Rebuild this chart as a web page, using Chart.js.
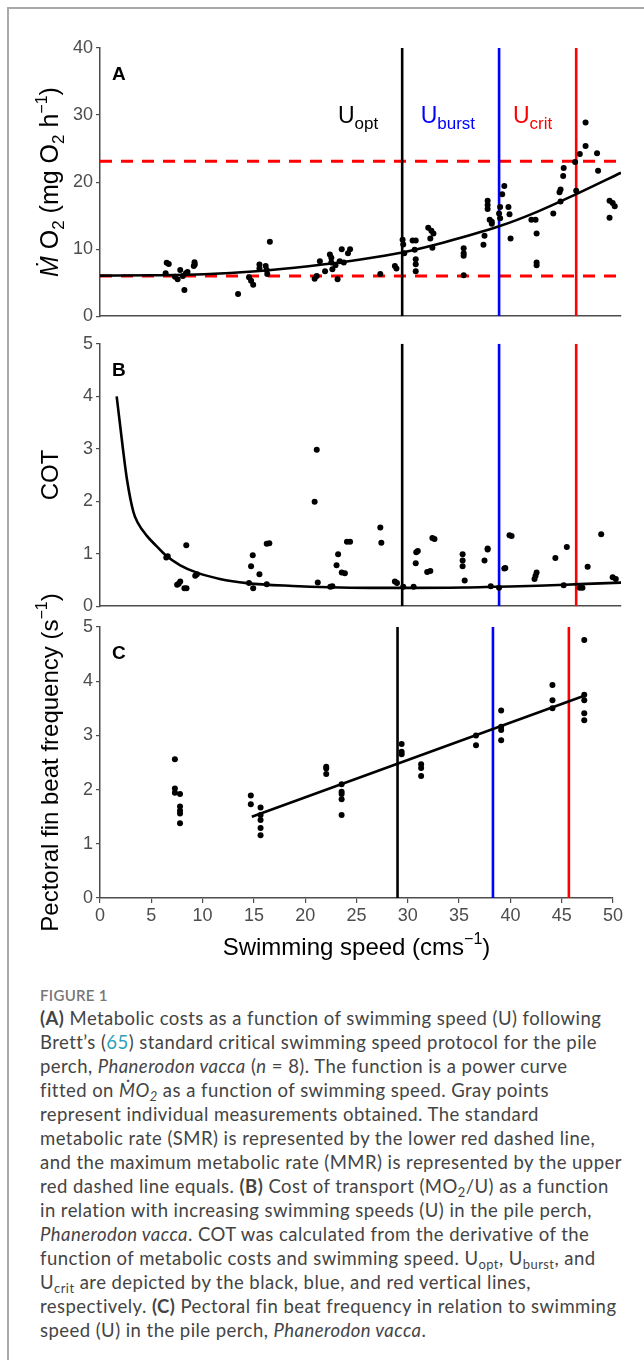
<!DOCTYPE html>
<html>
<head>
<meta charset="utf-8">
<script src="https://cdn.jsdelivr.net/npm/chart.js@4.4.1/dist/chart.umd.min.js"></script>
<style>
  body { margin: 0; background: #fff; width: 644px; height: 1360px; position: relative; overflow: hidden; }
  .frame { position: absolute; left: 7px; top: 7px; width: 700px; height: 1400px; border-left: 2px solid #aaa; border-top: 2px solid #aaa; }
  .panel { position: absolute; left: 0; width: 625px; }
  #boxA { top: 0; height: 330px; }
  #boxB { top: 330px; height: 290px; }
  #boxC { top: 575px; height: 390px; }
  .figlabel { position: absolute; left: 40px; top: 985px; font: 600 15px Lato, "Open Sans", sans-serif; color: #777; letter-spacing: 0.3px; line-height: 20px; }
  .caption { position: absolute; left: 40px; top: 1006px; font: 18.5px Lato, "Open Sans", sans-serif; letter-spacing: 0.45px; color: #444; line-height: 24px; white-space: nowrap; }
  .caption b { font-weight: 700; }
  .caption sub { font-size: 0.7em; line-height: 0; vertical-align: baseline; position: relative; top: 0.3em; }
  .caption .ref { color: #2a9fbc; }
</style>
</head>
<body>
<div class="frame"></div>
<div class="panel" id="boxA"><canvas id="chartA"></canvas></div>
<div class="panel" id="boxB"><canvas id="chartB"></canvas></div>
<div class="panel" id="boxC"><canvas id="chartC"></canvas></div>
<div class="figlabel">FIGURE 1</div>
<div class="caption">
<b>(A)</b> Metabolic costs as a function of swimming speed (U) following<br>
Brett’s (<span class="ref">65</span>) standard critical swimming speed protocol for the pile<br>
perch, <i>Phanerodon vacca</i> (<i>n</i> = 8). The function is a power curve<br>
fitted on <i>ṀO<sub>2</sub></i> as a function of swimming speed. Gray points<br>
represent individual measurements obtained. The standard<br>
metabolic rate (SMR) is represented by the lower red dashed line,<br>
and the maximum metabolic rate (MMR) is represented by the upper<br>
red dashed line equals. <b>(B)</b> Cost of transport (MO<sub>2</sub>/U) as a function<br>
in relation with increasing swimming speeds (U) in the pile perch,<br>
<i>Phanerodon vacca</i>. COT was calculated from the derivative of the<br>
function of metabolic costs and swimming speed. U<sub>opt</sub>, U<sub>burst</sub>, and<br>
U<sub>crit</sub> are depicted by the black, blue, and red vertical lines,<br>
respectively. <b>(C)</b> Pectoral fin beat frequency in relation to swimming<br>
speed (U) in the pile perch, <i>Phanerodon vacca</i>.
</div>
<script>
// reference speeds (cm/s): Uopt, Uburst, Ucrit
var uMarks = [29.0, 38.3, 45.7];
var uNames = ['opt', 'burst', 'crit'];
// SMR and MMR (mg O2 / h)
var smrLevel = 6.0;
var mmrLevel = 23.1;

// panel A - MO2 measurements
var mo2Speed = [6.3, 6.4, 6.6, 7.2, 7.45, 7.7, 7.95, 8.1, 8.25, 8.4, 9.0, 9.07, 9.1,
  13.25, 14.3, 14.5, 14.7, 15.3, 15.3, 15.9, 16.0, 16.05, 16.3,
  20.6, 20.8, 21.1, 21.6, 22.06, 22.2, 22.2, 22.3, 22.8, 23.0, 23.2, 23.4, 23.8, 24.0, 22.6,
  26.9, 28.3, 28.45, 29.04, 29.1, 29.2, 30.0, 30.3, 30.2, 30.3, 30.3, 30.3,
  31.5, 31.8, 32.0, 31.7, 31.9,
  34.9, 34.9, 34.9, 34.9,
  36.8, 36.9, 37.2, 37.2, 37.2, 37.4, 37.6, 37.6,
  38.3, 38.4, 38.4, 38.6, 38.8, 39.2, 39.3, 39.4,
  41.4, 41.8, 41.9, 41.9, 41.9, 43.5, 44.1, 44.2, 44.2, 44.45, 44.5,
  45.7, 45.6, 46.05, 46.6, 46.6, 47.7, 47.8, 48.9, 49.2, 49.4, 48.9];
var mo2Rate = [6.4, 7.96, 7.8, 5.9, 5.5, 6.9, 6.0, 3.9, 6.4, 6.6, 7.5, 8.06, 7.7,
  3.3, 5.8, 5.3, 4.7, 7.7, 7.1, 7.5, 6.9, 6.3, 11.1,
  5.6, 6.0, 8.2, 6.7, 9.2, 8.7, 8.0, 7.0, 5.5, 8.2, 10.0, 8.0, 9.4, 10.0, 7.6,
  6.3, 7.5, 7.1, 11.4, 10.7, 9.4, 11.3, 11.3, 9.9, 8.5, 7.75, 6.7,
  13.2, 12.75, 12.35, 11.6, 10.2,
  10.15, 9.4, 9.0, 6.1,
  10.65, 12.0, 17.2, 16.6, 16.0, 14.4, 14.1, 13.8,
  15.3, 16.3, 14.6, 18.2, 19.4, 16.3, 15.2, 11.6,
  14.4, 14.4, 12.35, 8.0, 7.6, 15.3, 18.5, 18.9, 17.1, 20.9, 22.1,
  18.7, 23.0, 24.2, 25.4, 28.9, 24.3, 21.7, 17.2, 16.9, 16.4, 14.7];
// panel A - fitted power curve
var mo2FitSpeed = [0, 5, 10, 15, 20, 25, 29, 33, 38.3, 42, 45.7, 50];
var mo2FitRate = [6.05, 6.1, 6.25, 6.7, 7.45, 8.45, 9.5, 11.0, 13.4, 15.6, 18.2, 21.4];

// panel B - cost of transport
var cotSpeed = [6.36, 6.5, 8.28, 7.4, 7.55, 7.7, 8.1, 8.3, 9.14, 9.3,
  14.3, 14.5, 14.66, 14.7, 15.3, 16.0, 16.0, 16.25,
  20.6, 20.8, 20.9, 22.1, 22.3, 22.7, 22.85, 23.2, 23.5, 23.7, 24.0,
  26.9, 27.0, 28.3, 28.5, 29.1, 30.1, 30.3, 30.35, 30.5, 31.4, 31.7, 31.9, 32.1,
  34.8, 34.8, 34.8, 35.0, 36.9, 37.2, 37.2, 37.5, 38.8, 38.9, 38.3,
  39.3, 39.5, 41.7, 41.8, 41.9, 43.7, 44.5, 44.8, 46.05, 46.3, 46.8, 48.1, 49.2, 49.5];
var cotValue = [0.93, 0.95, 1.16, 0.41, 0.43, 0.47, 0.34, 0.34, 0.58, 0.61,
  0.44, 0.76, 0.97, 0.34, 0.61, 0.42, 1.19, 1.2,
  1.99, 2.98, 0.45, 0.37, 0.38, 0.78, 0.99, 0.64, 0.63, 1.23, 1.23,
  1.5, 1.21, 0.47, 0.44, 0.37, 0.37, 0.82, 1.03, 1.05, 0.65, 0.67, 1.3, 1.28,
  0.99, 0.87, 0.76, 0.49, 0.87, 1.08, 1.1, 0.38, 0.72, 0.73, 0.35,
  1.35, 1.34, 0.52, 0.58, 0.64, 0.92, 0.40, 1.13, 0.35, 0.35, 0.75, 1.37, 0.55, 0.52];
var cotFitSpeed = [1.6, 2.2, 2.6, 3.2, 3.6, 4.5, 5.4, 6.3, 7.7, 9.3, 11.5, 14.1, 18.5, 22, 26, 30, 35, 38, 42, 46, 50];
var cotFitValue = [4.0, 3.0, 2.4, 1.8, 1.6, 1.34, 1.15, 0.97, 0.78, 0.64, 0.52, 0.44, 0.385, 0.36, 0.35, 0.35, 0.355, 0.37, 0.39, 0.42, 0.45];

// panel C - pectoral fin beat frequency
var finSpeed = [7.3, 7.3, 7.3, 7.8, 7.8, 7.8, 7.8, 7.8,
  14.7, 14.7, 15.65, 15.65, 15.65, 15.65, 15.65,
  22.05, 22.05, 22.05, 23.55, 23.55, 23.55, 23.55, 23.55,
  29.4, 29.4, 29.4, 31.3, 31.3, 31.3, 36.65, 36.65,
  39.1, 39.1, 39.1, 39.1, 44.1, 44.1, 44.1,
  47.2, 47.2, 47.2, 47.2, 47.2];
var finFreq = [2.56, 2.02, 1.94, 1.92, 1.69, 1.61, 1.56, 1.38,
  1.89, 1.73, 1.67, 1.53, 1.44, 1.29, 1.16,
  2.42, 2.39, 2.29, 2.10, 1.96, 1.92, 1.82, 1.53,
  2.84, 2.70, 2.65, 2.47, 2.40, 2.25, 2.82, 3.0,
  3.46, 3.16, 3.10, 2.91, 3.93, 3.65, 3.50,
  4.76, 3.75, 3.65, 3.41, 3.28];
var finFitSpeed = [14.8, 47.2];
var finFitFreq = [1.50, 3.73];

var lineColors = ['#000000', '#0000ff', '#ff0000'];
var baseFont = '"Liberation Sans", Arial, sans-serif';
var axisGray = '#4d4d4d';

function toPts(xs, ys) {
  return xs.map(function (x, i) { return { x: x, y: ys[i] }; });
}

function pointSet(xs, ys) {
  return { data: toPts(xs, ys), backgroundColor: '#000', borderWidth: 0, pointRadius: 3, order: 1 };
}

function curveSet(xs, ys, smooth) {
  return {
    data: toPts(xs, ys), showLine: true, pointRadius: 0, borderColor: '#000', borderWidth: 2.6,
    tension: smooth ? 0.4 : 0, cubicInterpolationMode: smooth ? 'monotone' : 'default', order: 2
  };
}

function vlineSets(ymax) {
  return uMarks.map(function (u, i) {
    return { data: [{ x: u, y: 0 }, { x: u, y: ymax }], showLine: true, pointRadius: 0,
      borderColor: lineColors[i], borderWidth: 2.6, order: 3 };
  });
}

function hlineSet(level) {
  return { data: [{ x: 0, y: level }, { x: 50, y: level }], showLine: true, pointRadius: 0,
    borderColor: '#ff0000', borderWidth: 3, borderDash: [12, 9], order: 4 };
}

function xScale(labels, h) {
  return {
    type: 'linear', min: 0, max: 50,
    ticks: { display: labels, stepSize: 5, color: axisGray, padding: 2, maxRotation: 0, autoSkip: false,
      font: { family: baseFont, size: 18 } },
    grid: { drawOnChartArea: false, drawTicks: labels, tickLength: 5, color: axisGray, lineWidth: 1.2 },
    border: { display: true, color: axisGray, width: 1.5 },
    afterFit: function (s) { s.height = h; }
  };
}

function yScale(max, step) {
  return {
    type: 'linear', min: 0, max: max,
    ticks: { stepSize: step, color: axisGray, padding: 3, font: { family: baseFont, size: 18 } },
    grid: { drawOnChartArea: false, tickLength: 4, color: axisGray, lineWidth: 1.2 },
    border: { display: true, color: axisGray, width: 1.5 },
    afterFit: function (s) { s.width = 100; }
  };
}

// draws a run of text pieces (sub/superscripts) starting at x, y
function drawRich(ctx, x, y, parts, align) {
  var total = 0;
  parts.forEach(function (p) {
    ctx.font = (p.style || '') + ' ' + p.size + 'px ' + baseFont;
    p.w = ctx.measureText(p.t).width;
    total += p.w;
  });
  var cx = align === 'center' ? x - total / 2 : (align === 'right' ? x - total : x);
  ctx.textAlign = 'left';
  ctx.textBaseline = 'alphabetic';
  parts.forEach(function (p) {
    ctx.font = (p.style || '') + ' ' + p.size + 'px ' + baseFont;
    ctx.fillStyle = p.color || '#000';
    ctx.fillText(p.t, cx, y + (p.dy || 0));
    cx += p.w;
  });
}

function yTitle(ctx, area, parts) {
  ctx.save();
  ctx.translate(58, (area.top + area.bottom) / 2);
  ctx.rotate(-Math.PI / 2);
  drawRich(ctx, 0, 0, parts, 'center');
  ctx.restore();
}

function panelLetter(ctx, area, letter) {
  ctx.save();
  drawRich(ctx, area.left + 12, area.top + 32, [{ t: letter, size: 19, style: 'bold' }], 'left');
  ctx.restore();
}

function makeChart(id, datasets, xs, ys, padTop, decorate) {
  return new Chart(document.getElementById(id), {
    type: 'scatter',
    data: { datasets: datasets },
    options: {
      responsive: true, maintainAspectRatio: false, animation: false, events: [],
      layout: { autoPadding: false, padding: { top: padTop, right: 4, bottom: 0, left: 0 } },
      plugins: { legend: { display: false }, tooltip: { enabled: false } },
      scales: { x: xs, y: ys }
    },
    plugins: [{ id: 'deco' + id, afterDraw: function (chart) { decorate(chart, chart.ctx, chart.chartArea); } }]
  });
}

// Panel A
makeChart('chartA',
  [pointSet(mo2Speed, mo2Rate), curveSet(mo2FitSpeed, mo2FitRate, true)]
    .concat(vlineSets(40)).concat([hlineSet(smrLevel), hlineSet(mmrLevel)]),
  xScale(false, 9), yScale(40, 10), 48,
  function (chart, ctx, area) {
    var xs = chart.scales.x;
    ctx.save();
    uMarks.forEach(function (u, i) {
      drawRich(ctx, xs.getPixelForValue(u) - 24, area.top + 75, [
        { t: 'U', size: 23, color: lineColors[i] },
        { t: uNames[i], size: 17, dy: 6, color: lineColors[i] }
      ], 'right');
    });
    ctx.restore();
    panelLetter(ctx, area, 'A');
    yTitle(ctx, area, [
      { t: 'Ṁ', size: 25, style: 'italic' },
      { t: ' O', size: 25 }, { t: '2', size: 17, dy: 6 },
      { t: ' (mg O', size: 25 }, { t: '2', size: 17, dy: 6 },
      { t: ' h', size: 25 }, { t: '−1', size: 16, dy: -11 },
      { t: ')', size: 25 }
    ]);
  });

// Panel B
makeChart('chartB',
  [pointSet(cotSpeed, cotValue), curveSet(cotFitSpeed, cotFitValue, true)].concat(vlineSets(5)),
  xScale(false, 10), yScale(5, 1), 7,
  function (chart, ctx, area) {
    panelLetter(ctx, area, 'B');
    yTitle(ctx, area, [{ t: 'COT', size: 24 }]);
  });

// Panel C
makeChart('chartC',
  [pointSet(finSpeed, finFreq), curveSet(finFitSpeed, finFitFreq, false)].concat(vlineSets(5)),
  xScale(true, 67), yScale(5, 1), 52,
  function (chart, ctx, area) {
    panelLetter(ctx, area, 'C');
    yTitle(ctx, area, [
      { t: 'Pectoral fin beat frequency (s', size: 24 },
      { t: '−1', size: 16, dy: -11 },
      { t: ')', size: 24 }
    ]);
    drawRich(ctx, (area.left + area.right) / 2, 380, [
      { t: 'Swimming speed (cms', size: 24 },
      { t: '−1', size: 16, dy: -11 },
      { t: ')', size: 24 }
    ], 'center');
  });
</script>
</body>
</html>
